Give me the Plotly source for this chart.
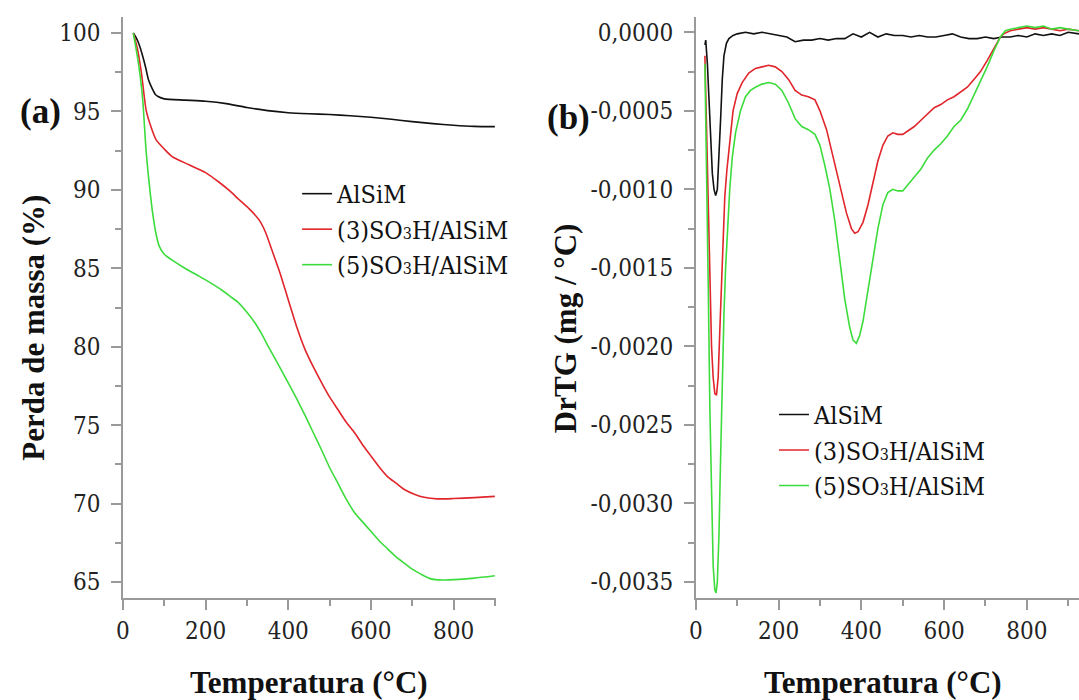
import plotly.graph_objects as go

# ---------------- data: TG (panel a) ----------------
tg_alsim_x = [25, 32, 40, 48, 55, 62, 70, 78, 85, 100, 150, 200, 250, 300, 350, 400, 450, 500, 550, 600, 650, 700, 750, 800, 850, 900]
tg_alsim_y = [100, 99.7, 99.2, 98.5, 97.8, 97.0, 96.5, 96.1, 95.95, 95.8, 95.72, 95.65, 95.5, 95.25, 95.05, 94.92, 94.85, 94.8, 94.72, 94.63, 94.5, 94.35, 94.22, 94.12, 94.05, 94.03]

tg_s3_x = [25, 35, 45, 56, 68, 80, 100, 120, 160, 200, 232, 260, 280, 305, 329, 345, 360, 380, 400, 420, 441, 461, 481, 500, 520, 540, 561, 581, 601, 621, 641, 661, 681, 705, 729, 761, 800, 850, 900]
tg_s3_y = [100, 99.0, 97.4, 95.1, 94.0, 93.2, 92.6, 92.1, 91.6, 91.1, 90.5, 89.9, 89.4, 88.8, 88.1, 87.3, 86.2, 84.7, 83.0, 81.3, 79.8, 78.7, 77.7, 76.8, 76.0, 75.2, 74.5, 73.7, 73.0, 72.3, 71.7, 71.3, 70.9, 70.6, 70.4, 70.3, 70.32, 70.38, 70.46]

tg_s5_x = [25, 35, 42, 48, 56, 64, 72, 80, 88, 100, 120, 150, 184, 210, 240, 260, 280, 300, 320, 336, 352, 375, 400, 420, 441, 461, 481, 500, 520, 540, 561, 581, 601, 621, 641, 661, 681, 701, 721, 745, 775, 801, 850, 900]
tg_s5_y = [100, 98.5, 97.2, 95.7, 92.5, 90.3, 88.5, 87.2, 86.4, 85.9, 85.5, 85.0, 84.5, 84.1, 83.6, 83.2, 82.8, 82.2, 81.5, 80.8, 80.0, 78.9, 77.7, 76.7, 75.6, 74.5, 73.4, 72.3, 71.3, 70.3, 69.4, 68.8, 68.2, 67.6, 67.1, 66.6, 66.2, 65.8, 65.5, 65.2, 65.13, 65.15, 65.25, 65.4]

# ---------------- data: DrTG (panel b) ----------------
dtg_alsim_x = [22, 24, 28, 32, 36, 40, 44, 48, 52, 56, 60, 64, 68, 74, 80, 90, 100, 120, 140, 160, 180, 200, 220, 240, 260, 280, 300, 320, 340, 360, 380, 400, 420, 440, 460, 480, 500, 520, 540, 560, 580, 600, 620, 640, 660, 680, 700, 720, 740, 760, 780, 800, 820, 840, 860, 880, 900, 926]
dtg_alsim_y = [-0.00008, -0.00005, -0.0002, -0.00045, -0.0007, -0.0009, -0.001, -0.00104, -0.001, -0.0008, -0.00055, -0.0003, -0.00015, -0.00007, -0.00004, -0.00002, -0.00001, 0.0, -0.00001, 0.0, -0.00001, -0.00002, -0.00003, -0.00006, -0.00005, -0.00005, -0.00004, -0.00005, -0.00004, -0.00004, -0.00001, -0.00003, 0.0, -0.00003, -0.00001, -0.00002, -0.00002, -0.00003, -0.00002, -0.00003, -0.00003, -0.00002, -0.00001, -0.00003, -0.00004, -0.00004, -0.00003, -0.00004, -0.00003, -0.00003, -0.00002, -0.00003, -0.00001, -0.00002, -0.00001, -0.00002, 0.0, -0.00001]

dtg_s3_x = [22, 26, 30, 34, 38, 42, 46, 50, 54, 58, 62, 66, 70, 75, 80, 90, 100, 112, 128, 144, 160, 176, 192, 208, 224, 240, 256, 272, 288, 300, 316, 332, 348, 364, 376, 384, 392, 404, 416, 428, 440, 452, 464, 476, 488, 500, 512, 528, 544, 560, 576, 592, 608, 624, 640, 656, 672, 688, 704, 720, 736, 744, 760, 780, 800, 820, 840, 860, 880, 900, 926]
dtg_s3_y = [-0.00015, -0.0006, -0.0012, -0.0017, -0.002, -0.0022, -0.0023, -0.00231, -0.0022, -0.0019, -0.0016, -0.0013, -0.00105, -0.00088, -0.00075, -0.0005, -0.00039, -0.00032, -0.00026, -0.00023, -0.00022, -0.00021, -0.00022, -0.00025, -0.0003, -0.00037, -0.0004, -0.00041, -0.00043, -0.0005, -0.00062, -0.0008, -0.00099, -0.00115, -0.00125, -0.00128, -0.00127, -0.00121, -0.0011, -0.00096, -0.00082, -0.00072, -0.00066, -0.00064, -0.00065, -0.00065, -0.00063, -0.0006, -0.00056, -0.00052, -0.00048, -0.00046, -0.00043, -0.00041, -0.00038, -0.00035, -0.0003, -0.00025, -0.00018, -0.0001, -0.00003, -0.00001, 0.00001, 0.00002, 0.00003, 0.00002, 0.00003, 0.00002, 0.00001, 0.00002, 0.00001]

dtg_s5_x = [22, 26, 30, 34, 38, 42, 46, 49, 52, 56, 60, 64, 68, 72, 76, 82, 88, 96, 108, 120, 132, 144, 160, 176, 192, 208, 224, 240, 256, 272, 288, 300, 312, 324, 336, 348, 360, 372, 380, 388, 396, 404, 416, 428, 440, 452, 464, 476, 488, 500, 512, 528, 544, 560, 576, 592, 608, 624, 640, 656, 672, 688, 704, 720, 736, 748, 760, 780, 800, 820, 840, 860, 880, 900, 926]
dtg_s5_y = [-0.0002, -0.0008, -0.0016, -0.0024, -0.003, -0.0034, -0.00355, -0.00357, -0.0035, -0.0032, -0.0027, -0.0022, -0.0018, -0.0015, -0.00128, -0.001, -0.0008, -0.00064, -0.0005, -0.00041, -0.00037, -0.00035, -0.00033, -0.00032, -0.00033, -0.00037, -0.00045, -0.00055, -0.0006, -0.00062, -0.00065, -0.00072, -0.00085, -0.001, -0.0012, -0.00145, -0.0017, -0.00188, -0.00196, -0.00198, -0.00193, -0.00184, -0.00165, -0.00145, -0.00125, -0.0011, -0.00102, -0.001, -0.00101, -0.00101, -0.00097, -0.00092, -0.00087, -0.0008, -0.00075, -0.00071, -0.00066, -0.0006, -0.00056, -0.00049, -0.0004, -0.00032, -0.00022, -0.00012, -0.00003, 0.00001, 0.00002, 0.00003, 0.00004, 0.00003, 0.00004, 0.00002, 0.00003, 0.00002, 0.00001]

sub3 = "<span style='font-size:16px'>3</span>"
series_names = ["AlSiM", "(3)SO" + sub3 + "H/AlSiM", "(5)SO" + sub3 + "H/AlSiM"]
series_colors = ["#111111", "#e0252b", "#3ddc3d"]

x_tickvals = [0, 200, 400, 600, 800]
tg_tickvals = [65, 70, 75, 80, 85, 90, 95, 100]
dtg_tickvals = [0.0, -0.0005, -0.0010, -0.0015, -0.0020, -0.0025, -0.0030, -0.0035]
dtg_ticktext = ["0,0000", "-0,0005", "-0,0010", "-0,0015", "-0,0020", "-0,0025", "-0,0030", "-0,0035"]

# ---------------- figure ----------------
W, H = 1079, 700
top_px, bottom_px = 17, 598.3
plot_h = bottom_px - top_px
SERIF_BOLD = "Liberation Serif"
SERIF_REG = "DejaVu Serif Condensed, DejaVu Serif"

def px_x(px):
    return px / W

def px_y(py):
    return (bottom_px - py) / plot_h

fig = go.Figure()

tg_sets = [(tg_alsim_x, tg_alsim_y), (tg_s3_x, tg_s3_y), (tg_s5_x, tg_s5_y)]
dtg_sets = [(dtg_alsim_x, dtg_alsim_y), (dtg_s3_x, dtg_s3_y), (dtg_s5_x, dtg_s5_y)]

for (xs, ys), name, col in zip(tg_sets, series_names, series_colors):
    fig.add_trace(go.Scatter(x=xs, y=ys, mode="lines", name=name,
                             line=dict(color=col, width=1.6, shape="spline", smoothing=0.6),
                             xaxis="x", yaxis="y", legend="legend"))
for (xs, ys), name, col in zip(dtg_sets, series_names, series_colors):
    fig.add_trace(go.Scatter(x=xs, y=ys, mode="lines", name=name,
                             line=dict(color=col, width=1.6),
                             xaxis="x2", yaxis="y2", legend="legend2"))

axis_col = "#9a9a9a"
tick_font = dict(family=SERIF_REG, size=24, color="#222222")
common_axis = dict(showline=True, linecolor=axis_col, linewidth=1.5, ticks="outside",
                   tickcolor=axis_col, ticklen=10, tickwidth=1.5, showgrid=False,
                   zeroline=False, mirror=False, tickfont=tick_font)
legend_font = dict(family=SERIF_REG, size=25, color="#111111")

fig.update_layout(
    width=W, height=H,
    font=dict(family=SERIF_REG, size=24, color="#111111"),
    margin=dict(l=0, r=0, t=top_px, b=H - bottom_px),
    paper_bgcolor="white", plot_bgcolor="white",
    xaxis=dict(domain=[px_x(116.7), px_x(492.3)], range=[0, 903], anchor="y",
               tickmode="array", tickvals=x_tickvals,
               minor=dict(ticks="outside", ticklen=6, tickcolor=axis_col, dtick=100, tick0=0),
               **common_axis),
    yaxis=dict(domain=[0, 1], range=[63.98, 101.02], anchor="x",
               tickmode="array", tickvals=tg_tickvals, ticklabelstandoff=6,
               minor=dict(ticks="outside", ticklen=6, tickcolor=axis_col, dtick=2.5, tick0=0),
               **common_axis),
    xaxis2=dict(domain=[px_x(693.3), 1.0], range=[0, 926], anchor="y2",
                tickmode="array", tickvals=x_tickvals,
                minor=dict(ticks="outside", ticklen=6, tickcolor=axis_col, dtick=100, tick0=0),
                **common_axis),
    yaxis2=dict(domain=[0, 1], range=[-0.003602, 0.0000974], anchor="x2",
                tickmode="array", tickvals=dtg_tickvals, ticktext=dtg_ticktext, ticklabelstandoff=6,
                minor=dict(ticks="outside", ticklen=6, tickcolor=axis_col,
                           tickvals=[-0.00025, -0.00075, -0.00125, -0.00175, -0.00225, -0.00275, -0.00325]),
                **common_axis),
    legend=dict(x=px_x(292), y=px_y(171), xanchor="left", yanchor="top",
                bgcolor="rgba(0,0,0,0)", font=legend_font,
                tracegroupgap=0, itemwidth=30),
    legend2=dict(x=px_x(772), y=px_y(392), xanchor="left", yanchor="top",
                 bgcolor="rgba(0,0,0,0)", font=legend_font,
                 tracegroupgap=0, itemwidth=30),
    showlegend=True,
)

title_font = dict(family=SERIF_BOLD, size=31, color="#111111", weight="bold")
annos = [
    dict(text="Temperatura (°C)", x=px_x(304), y=px_y(683)),
    dict(text="Temperatura (°C)", x=px_x(881.7), y=px_y(683)),
    dict(text="Perda de massa (%)", x=px_x(27), y=px_y(328), textangle=-90),
    dict(text="DrTG (mg / °C)", x=px_x(562), y=px_y(328), textangle=-90),
]
for a in annos:
    fig.add_annotation(xref="paper", yref="paper", showarrow=False, xanchor="center",
                       yanchor="middle", font=title_font, **a)

label_font = dict(family=SERIF_BOLD, size=35, color="#111111", weight="bold")
fig.add_annotation(text="(a)", x=px_x(34), y=px_y(112), xref="paper", yref="paper",
                   showarrow=False, xanchor="center", yanchor="middle", font=label_font)
fig.add_annotation(text="(b)", x=px_x(565), y=px_y(118), xref="paper", yref="paper",
                   showarrow=False, xanchor="center", yanchor="middle", font=label_font)

fig.write_html("out.html")
